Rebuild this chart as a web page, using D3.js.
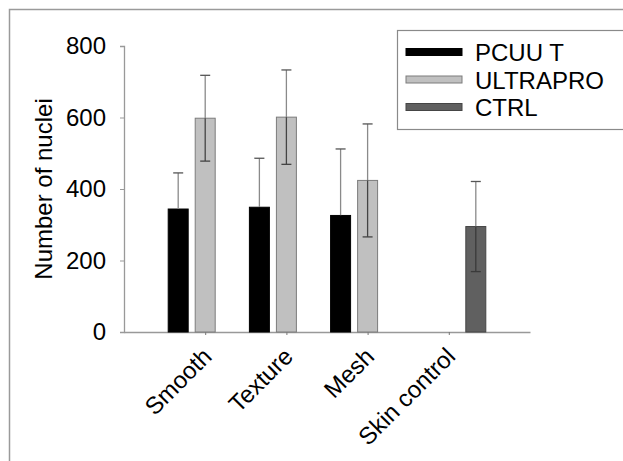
<!DOCTYPE html>
<html>
<head>
<meta charset="utf-8">
<script src="https://cdn.jsdelivr.net/npm/d3@7"></script>
<style>
  body { margin: 0; background: #fff; }
  svg { display: block; font-family: "Liberation Sans", Arial, sans-serif; }
</style>
</head>
<body>
<svg id="chart" width="623" height="461"></svg>
<script>
// Categories and series
const categories = ["Smooth", "Texture", "Mesh", "Skin control"];
const series = ["PCUU T", "ULTRAPRO", "CTRL"];

// Mean nuclei counts and error (SD) per series, one entry per category
const pcuuMean  = [344, 349, 326, null];
const pcuuErr   = [101, 137, 186, null];
const ultraMean = [598, 601, 424, null];
const ultraErr  = [120, 132, 158, null];
const ctrlMean  = [null, null, null, 295];
const ctrlErr   = [null, null, null, 126];

const yTicks = [0, 200, 400, 600, 800];

const fills    = ["#000000", "#c0c0c0", "#606060"];
const outlines = ["#000000", "#7c7c7c", "#454545"];
const innerErr = ["#000000", "#444444", "#3a3a3a"];

const means = [pcuuMean, ultraMean, ctrlMean];
const errs  = [pcuuErr, ultraErr, ctrlErr];

// Flatten into drawable records
const bars = [];
series.forEach((s, si) => {
  categories.forEach((c, ci) => {
    if (means[si][ci] != null) {
      bars.push({ series: s, si, category: c, value: means[si][ci], err: errs[si][ci] });
    }
  });
});

const svg = d3.select("#chart");
const FS = 24;

// Outer frame (only left and top edges fall inside the canvas)
svg.append("rect")
  .attr("x", 9.5).attr("y", 9.5)
  .attr("width", 800).attr("height", 800)
  .attr("fill", "none").attr("stroke", "#9a9a9a").attr("stroke-width", 1.5);

const y = d3.scaleLinear().domain([0, 800]).range([332, 46]);
const x = d3.scalePoint().domain(categories).range([124, 530]).padding(1);
const sub = d3.scaleBand().domain(series).range([-37, 37]).paddingInner(0.26);

// Y axis
const yAxis = svg.append("g")
  .attr("transform", "translate(124,0)")
  .call(d3.axisLeft(y).tickValues(yTicks).tickSize(4).tickPadding(14).tickFormat(d3.format("d")));
yAxis.select(".domain").attr("stroke", "#999").attr("stroke-width", 1.3);
yAxis.selectAll(".tick line").attr("stroke", "#999");
yAxis.selectAll(".tick text")
  .attr("font-size", FS).attr("fill", "#000")
  .attr("font-family", "'Liberation Sans', Arial, sans-serif");

// X axis
const xAxis = svg.append("g")
  .attr("transform", "translate(0,332)")
  .call(d3.axisBottom(x).tickSizeInner(3).tickSizeOuter(0).tickFormat(""));
xAxis.select(".domain").attr("stroke", "#999").attr("stroke-width", 1.5);
xAxis.selectAll(".tick line").attr("stroke", "#777");

// Rotated category labels
svg.append("g").selectAll("text")
  .data(categories)
  .join("text")
  .attr("transform", d => `translate(${x(d) + 8},358) rotate(-45)`)
  .attr("text-anchor", "end")
  .attr("font-size", FS)
  .attr("fill", "#000")
  .text(d => d);

// Y axis title
svg.append("text")
  .attr("transform", "translate(52,189) rotate(-90)")
  .attr("text-anchor", "middle")
  .attr("font-size", FS)
  .attr("fill", "#000")
  .text("Number of nuclei");

// Bars
svg.append("g").selectAll("rect")
  .data(bars)
  .join("rect")
  .attr("x", d => x(d.category) + sub(d.series))
  .attr("y", d => y(d.value))
  .attr("width", sub.bandwidth())
  .attr("height", d => y(0) - y(d.value))
  .attr("fill", d => fills[d.si])
  .attr("stroke", d => outlines[d.si])
  .attr("stroke-width", 1);

// Error bars: lighter stem above the bar, darker stem inside it
const eb = svg.append("g").selectAll("g")
  .data(bars)
  .join("g")
  .attr("transform", d => `translate(${x(d.category) + sub(d.series) + sub.bandwidth() / 2},0)`);
eb.append("line")
  .attr("y1", d => y(d.value + d.err))
  .attr("y2", d => y(d.value))
  .attr("stroke", "#8a8a8a").attr("stroke-width", 1.3);
eb.append("line")
  .attr("y1", d => y(d.value))
  .attr("y2", d => y(d.value - d.err))
  .attr("stroke", d => innerErr[d.si]).attr("stroke-width", 1.3);
eb.append("line")
  .attr("x1", -5).attr("x2", 5)
  .attr("y1", d => y(d.value + d.err)).attr("y2", d => y(d.value + d.err))
  .attr("stroke", "#555").attr("stroke-width", 1.3);
eb.append("line")
  .attr("x1", -5).attr("x2", 5)
  .attr("y1", d => y(d.value - d.err)).attr("y2", d => y(d.value - d.err))
  .attr("stroke", d => innerErr[d.si]).attr("stroke-width", 1.3);

// Legend
const legend = svg.append("g");
legend.append("rect")
  .attr("x", 397.5).attr("y", 30.5)
  .attr("width", 300).attr("height", 99)
  .attr("fill", "#fff").attr("stroke", "#8a8a8a").attr("stroke-width", 1.2);
const items = legend.selectAll("g.item")
  .data(series)
  .join("g")
  .attr("class", "item")
  .attr("transform", (d, i) => `translate(0,${52 + i * 27.5})`);
items.append("rect")
  .attr("x", 406).attr("y", -3.5)
  .attr("width", 56).attr("height", 7)
  .attr("fill", (d, i) => fills[i])
  .attr("stroke", (d, i) => outlines[i]).attr("stroke-width", 1);
items.append("text")
  .attr("x", 475).attr("y", 9)
  .attr("font-size", FS)
  .attr("fill", "#000")
  .text(d => d);
</script>
</body>
</html>
